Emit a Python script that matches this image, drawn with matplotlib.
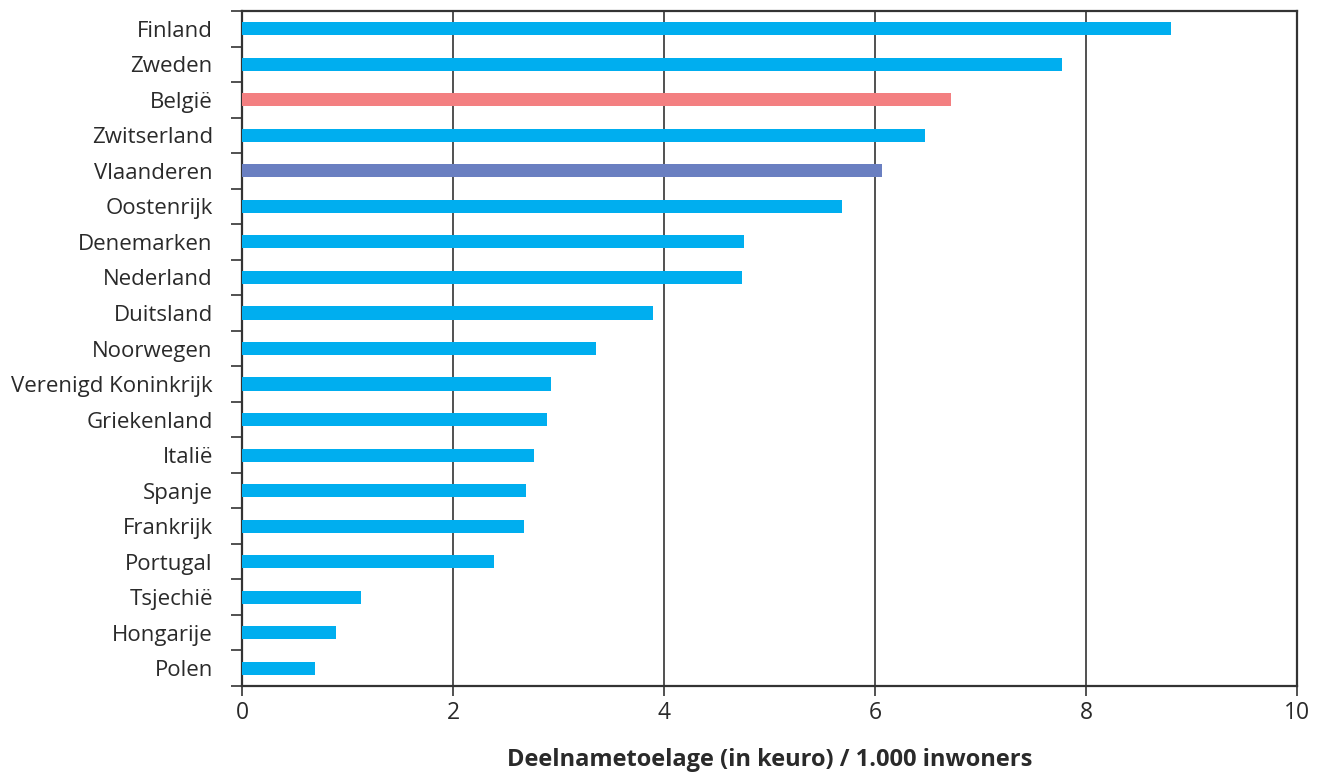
import matplotlib
matplotlib.use("Agg")
import matplotlib.pyplot as plt
import numpy as np

countries = ["Finland", "Zweden", "België", "Zwitserland", "Vlaanderen", "Oostenrijk",
             "Denemarken", "Nederland", "Duitsland", "Noorwegen", "Verenigd Koninkrijk",
             "Griekenland", "Italië", "Spanje", "Frankrijk", "Portugal", "Tsjechië",
             "Hongarije", "Polen"]
values = [8.81, 7.77, 6.72, 6.47, 6.07, 5.69, 4.76, 4.74, 3.90, 3.36, 2.93,
          2.89, 2.77, 2.69, 2.67, 2.39, 1.13, 0.89, 0.69]
xticks = [0, 2, 4, 6, 8, 10]
xlabel = "Deelnametoelage (in keuro) / 1.000 inwoners"

BLUE = "#00AEEF"
PINK = "#F37F81"
PURPLE = "#6A7FC1"
colors = [PINK if c == "België" else PURPLE if c == "Vlaanderen" else BLUE for c in countries]

plt.rcParams['font.family'] = ['Open Sans', 'DejaVu Sans']
fig = plt.figure(figsize=(13.28, 7.74), dpi=100)
ax = fig.add_axes([242/1328, 1-686/774, (1297-242)/1328, (686-11)/774])

n = len(countries)
y = np.arange(n)[::-1]
ax.barh(y, values, height=0.37, color=colors, zorder=3)
ax.set_ylim(-0.5, n - 0.5)
ax.set_xlim(0, 10)
ax.set_xticks(xticks)
ax.set_xticklabels([str(t) for t in xticks], fontsize=16.5, color="#2a2a2a")
ax.set_yticks(y)
ax.set_yticklabels(countries, fontsize=16, color="#2a2a2a")
ax.tick_params(axis='y', length=0, pad=21)
ax.set_yticks(np.arange(-0.5, n, 1.0), minor=True)
ax.tick_params(axis='y', which='minor', length=8, width=1.2, color="#333333")
ax.tick_params(axis='x', length=7, width=1.2, color="#333333", pad=4)
ax.xaxis.grid(True, color="#333333", linewidth=1.2, zorder=1)
for s in ax.spines.values():
    s.set_linewidth(1.6)
    s.set_color("#333333")
ax.set_xlabel(xlabel, fontsize=17, fontweight='bold', color="#2a2a2a", labelpad=16)
fig.savefig("out.png", dpi=100)
